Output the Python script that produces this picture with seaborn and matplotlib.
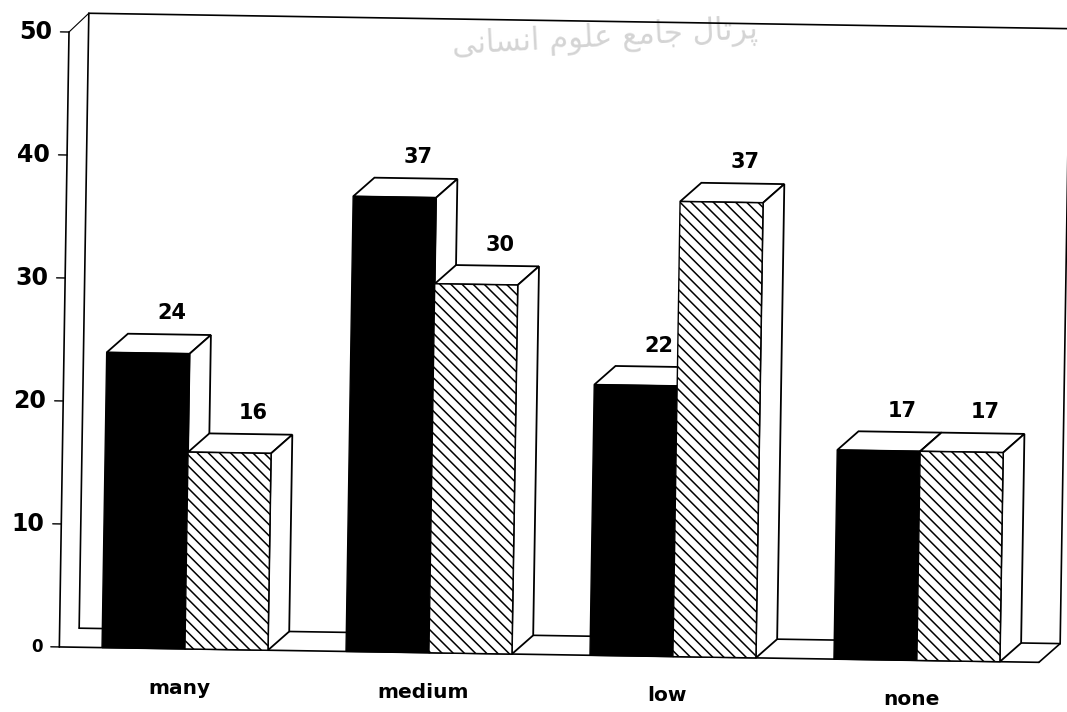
import matplotlib
matplotlib.use("Agg")
import matplotlib.pyplot as plt
from matplotlib.transforms import Affine2D
import pandas as pd
import seaborn as sns

# Data
categories = ["many", "medium", "low", "none"]
series_a = [24, 37, 22, 17]
series_b = [16, 30, 37, 17]
y_ticks = [0, 10, 20, 30, 40, 50]
watermark = "ﭘﺮﺗﺎل ﺟﺎﻣﻊ ﻋﻠﻮم اﻧﺴﺎﻧﯽ"

DX = 0.086   # depth of the fake 3D, x data units
DY = 1.55    # depth of the fake 3D, y data units
TILT = -0.9  # the scan is slightly rotated

sns.set_style("white")
plt.rcParams["font.family"] = ["DejaVu Sans"]
plt.rcParams["text.color"] = "black"
plt.rcParams["hatch.linewidth"] = 1.1

df = pd.DataFrame({
    "cat": categories * 2,
    "val": series_a + series_b,
    "group": ["a"] * 4 + ["b"] * 4,
})

fig = plt.figure(figsize=(10.67, 7.12), dpi=100)
ax = fig.add_axes([63 / 1067, (712 - 647) / 712, 976 / 1067, 615 / 712])

sns.barplot(data=df, x="cat", y="val", hue="group", order=categories,
            palette=["black", "white"], width=0.68, gap=0, dodge=True,
            edgecolor="black", linewidth=1.0, legend=False, ax=ax)
ax.set_xlim(-0.5, 3.5)
ax.set_ylim(0, 50)
ax.axis("off")

x0, x1 = -0.515, 3.5
wall = 0.08
line = dict(color="black", lw=1.2, clip_on=False, zorder=1)

# walls and floor
ax.plot([x0, x0], [0, 50], **line)
ax.plot([x0 + wall, x0 + wall], [DY, 50 + DY], **line)
ax.plot([x0, x0 + wall], [50, 50 + DY], lw=0.8, color="black", clip_on=False, zorder=1)
ax.plot([x0 + wall, x1 + DX], [50 + DY, 50 + DY], **line)
ax.plot([x1 + DX, x1 + DX], [DY, 50 + DY], **line)
ax.plot([x0 + wall, x1 + DX], [DY, DY], **line)
ax.plot([x0, x1], [0, 0], **line)
ax.plot([x1, x1 + DX], [0, DY], **line)

# top and side faces, worked out from the seaborn bars
for n, container in enumerate(ax.containers):
    for bar in container:
        left, w, h = bar.get_x(), bar.get_width(), bar.get_height()
        right = left + w
        bar.set_zorder(3 + 2 * n)
        bar.set_clip_on(False)
        if n == 1:
            bar.set_hatch("\\\\\\")
        ax.fill([left, right, right + DX, left + DX], [h, h, h + DY, h + DY],
                facecolor="white", edgecolor="black", lw=1.3, clip_on=False, zorder=2 + 2 * n)
        ax.fill([right, right + DX, right + DX, right], [0, DY, h + DY, h],
                facecolor="white", edgecolor="black", lw=1.3, clip_on=False, zorder=2 + 2 * n)
        ax.text(left + w / 2 + 0.095, h + DY + 0.9, str(int(h)), ha="center", va="bottom",
                fontsize=15, fontweight="bold", clip_on=False, zorder=8)

# y ticks
for t in y_ticks:
    ax.plot([x0 - 0.035, x0], [t, t], color="black", lw=1, clip_on=False, zorder=1)
    ax.text(x0 - 0.07, t, str(t), ha="right", va="center", fontsize=17 if t else 12,
            fontweight="bold", clip_on=False)

# category labels
for i, c in enumerate(categories):
    ax.text(i - 0.02, -3.2, c, ha="center", va="center", fontsize=14.5,
            fontweight="bold", clip_on=False)

ax.text(1.68, 50.3, watermark[::-1], ha="center", va="center", fontsize=22, rotation=3,
        color="#d4d4d4", clip_on=False, zorder=0)

# apply the scan tilt to everything drawn in the axes
px, py = ax.transData.transform((-0.5, 0))
rot = Affine2D().rotate_deg_around(px, py, TILT)
for art in list(ax.patches) + list(ax.lines) + list(ax.texts):
    art.set_transform(ax.transData + rot)

fig.savefig("out.png", dpi=100)
